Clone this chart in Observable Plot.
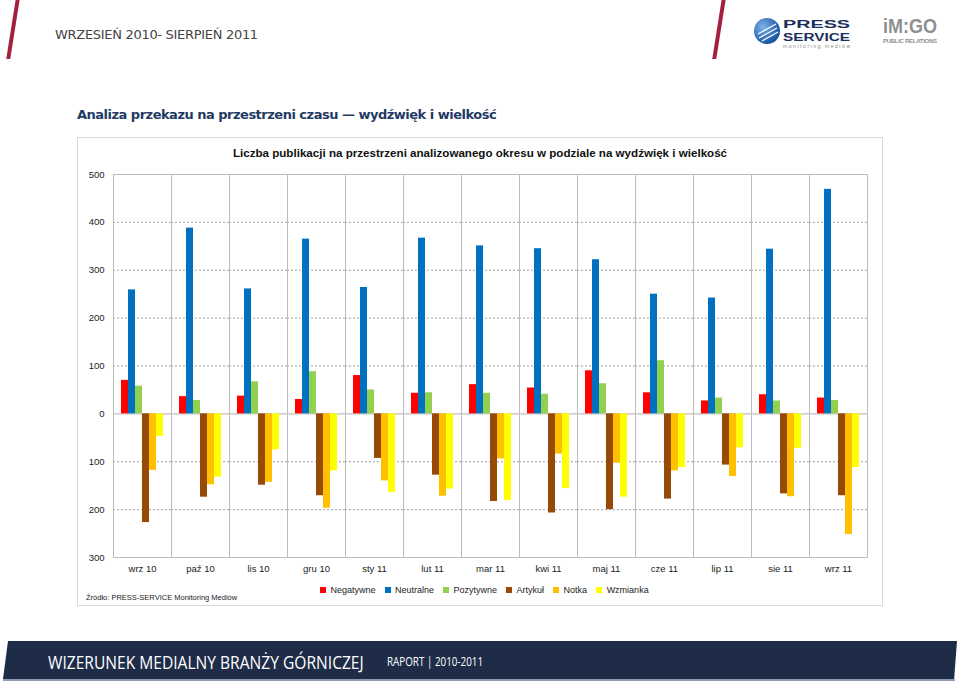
<!DOCTYPE html>
<html>
<head>
<meta charset="utf-8">
<script src="https://cdn.jsdelivr.net/npm/d3@7"></script>
<script src="https://cdn.jsdelivr.net/npm/@observablehq/plot@0.6"></script>
<style>
  html, body { margin: 0; padding: 0; background: #fff; }
  #page { position: relative; width: 960px; height: 683px; overflow: hidden; font-family: "DejaVu Sans", "Liberation Sans", sans-serif; }
  .slash { position: absolute; width: 4px; height: 60px; background: #a3203f; transform: skewX(-9deg); top: -1px; }
  #hdr { position: absolute; left: 55px; top: 27px; font-size: 13px; color: #444; font-family: "DejaVu Sans", sans-serif; letter-spacing: -0.3px; }
  #section { position: absolute; left: 77px; top: 107px; font-size: 13px; font-weight: bold; color: #1f3a64; font-family: "DejaVu Sans", sans-serif; letter-spacing: -0.5px; }
  #box { position: absolute; left: 77px; top: 137px; width: 804px; height: 467px; border: 1px solid #d9d9d9; }
  #ctitle { position: absolute; left: 77px; width: 806px; top: 146px; text-align: center; font-size: 11.6px; font-weight: bold; color: #111; font-family: "Liberation Sans", sans-serif; }
  #chart { position: absolute; left: 77px; top: 165px; }
  #legend { position: absolute; left: 320px; top: 573px; }
  #source { position: absolute; left: 86px; top: 593px; font-size: 7.5px; color: #222; font-family: "Liberation Sans", sans-serif; }
  #footer { position: absolute; left: 3px; top: 641px; width: 954px; height: 38px; background: #1e2c48; clip-path: polygon(5px 0, 100% 0, 99.7% 100%, 0 100%); }
  #footline { position: absolute; left: 3px; top: 679px; width: 952px; height: 2px; background: #8e9bb0; }
  #ftitle { position: absolute; left: 48px; top: 652px; line-height: 20px; font-size: 19px; color: #fff; font-family: "Open Sans", sans-serif; transform: scaleX(0.82); transform-origin: left center; white-space: nowrap; }
  #fsub { position: absolute; left: 387px; top: 654px; line-height: 16px; font-size: 12px; color: #fff; font-family: "Open Sans", sans-serif; transform: scaleX(0.82); transform-origin: left center; white-space: nowrap; }
</style>
</head>
<body>
<div id="page">
  <div class="slash" style="left:11px"></div>
  <div class="slash" style="left:717px"></div>
  <div id="hdr">WRZESIEŃ 2010- SIERPIEŃ 2011</div>
  <svg style="position:absolute;left:750px;top:13px" width="110" height="38">
    <defs><radialGradient id="g" cx="35%" cy="35%" r="70%"><stop offset="0" stop-color="#7fb4ea"/><stop offset="1" stop-color="#0f4f9e"/></radialGradient></defs>
    <circle cx="17" cy="18" r="13" fill="url(#g)"/>
    <path d="M8 21 L26 11 M9 25 L27 15 M12 28 L28 19" stroke="#fff" stroke-width="1.2" fill="none"/>
    <text x="33" y="15" font-family="Liberation Sans" font-weight="bold" font-size="11" fill="#1a2f5e" textLength="67" lengthAdjust="spacingAndGlyphs">PRESS</text>
    <text x="33" y="27.5" font-family="Liberation Sans" font-weight="bold" font-size="11" fill="#1a2f5e" textLength="67" lengthAdjust="spacingAndGlyphs">SERVICE</text>
    <text x="33" y="34.5" font-family="Liberation Sans" font-size="5" fill="#888" textLength="67">monitoring mediów</text>
  </svg>
  <svg style="position:absolute;left:880px;top:14px" width="62" height="34">
    <text x="3" y="19" font-family="Liberation Sans" font-weight="bold" font-size="20" fill="#8d8f93" textLength="54" lengthAdjust="spacingAndGlyphs">iM:GO</text>
    <text x="3" y="29" font-family="Liberation Sans" font-weight="bold" font-size="6" fill="#8d8f93" textLength="54">PUBLIC RELATIONS</text>
  </svg>
  <div id="section">Analiza przekazu na przestrzeni czasu — wydźwięk i wielkość</div>
  <div id="box"></div>
  <div id="ctitle">Liczba publikacji na przestrzeni analizowanego okresu w podziale na wydźwięk i wielkość</div>
  <div id="chart"></div>
  <div id="legend"></div>
  <div id="source">Źródło: PRESS-SERVICE Monitoring Mediów</div>
  <div id="footer"></div>
  <div id="footline"></div>
  <div id="ftitle">WIZERUNEK MEDIALNY BRANŻY GÓRNICZEJ</div>
  <div id="fsub">RAPORT | 2010-2011</div>
</div>
<script>
const months = ["wrz 10","paź 10","lis 10","gru 10","sty 11","lut 11","mar 11","kwi 11","maj 11","cze 11","lip 11","sie 11","wrz 11"];
const series = ["Negatywne","Neutralne","Pozytywne","Artykuł","Notka","Wzmianka"];
const colors = ["#ff0000","#0070c0","#92d050","#984807","#ffc000","#ffff00"];
// wydźwięk (above the axis)
const negatywne = [70, 36, 37, 30, 80, 43, 61, 54, 90, 44, 27, 40, 33];
const neutralne = [259, 388, 261, 365, 264, 367, 351, 345, 322, 250, 242, 344, 469];
const pozytywne = [58, 28, 67, 88, 50, 44, 43, 41, 63, 111, 33, 27, 28];
// wielkość (drawn below the axis)
const artykul = [227, 174, 149, 171, 93, 128, 183, 207, 200, 178, 107, 167, 171];
const notka = [118, 148, 143, 197, 140, 172, 94, 84, 103, 119, 131, 173, 252];
const wzmianka = [47, 132, 75, 119, 164, 157, 181, 156, 174, 112, 71, 72, 112];
const yTicks = [-300, -200, -100, 0, 100, 200, 300, 400, 500];
const gridTicks = [-200, -100, 100, 200, 300, 400];

const below = {"Artykuł": artykul, "Notka": notka, "Wzmianka": wzmianka};
const above = {"Negatywne": negatywne, "Neutralne": neutralne, "Pozytywne": pozytywne};
const rows = [];
months.forEach((m, i) => {
  series.forEach(s => {
    const v = above[s] ? above[s][i] : -below[s][i];
    rows.push({month: m, series: s, value: v});
  });
});

const chart = Plot.plot({
  width: 805,
  height: 420,
  marginLeft: 33,
  marginRight: 13,
  marginTop: 9,
  marginBottom: 28,
  style: {fontFamily: "Liberation Sans, sans-serif", fontSize: "9.5px", color: "#222", background: "transparent"},
  fx: {domain: months, padding: 0, label: null, axis: "bottom", tickSize: 0, tickPadding: 8},
  x: {domain: series, padding: 0, inset: 5.5, axis: null},
  y: {domain: [-300, 500], ticks: yTicks, tickFormat: d => Math.abs(d), tickSize: 0, tickPadding: 9, label: null},
  color: {domain: series, range: colors},
  marks: [
    Plot.ruleY(gridTicks, {stroke: "#a0a0a0", strokeDasharray: "2,2", strokeWidth: 1}),
    Plot.ruleY([0], {stroke: "#b0b0b0"}),
    Plot.barY(rows, {fx: "month", x: "series", y: "value", fill: "series"}),
    Plot.frame({stroke: "#bdbdbd"})
  ]
});
document.getElementById("chart").appendChild(chart);

const legend = Plot.legend({
  color: {domain: series, range: colors},
  swatchSize: 6,
  style: {fontFamily: "Liberation Sans, sans-serif", fontSize: "9px", color: "#222"}
});
document.getElementById("legend").appendChild(legend);
</script>
</body>
</html>
